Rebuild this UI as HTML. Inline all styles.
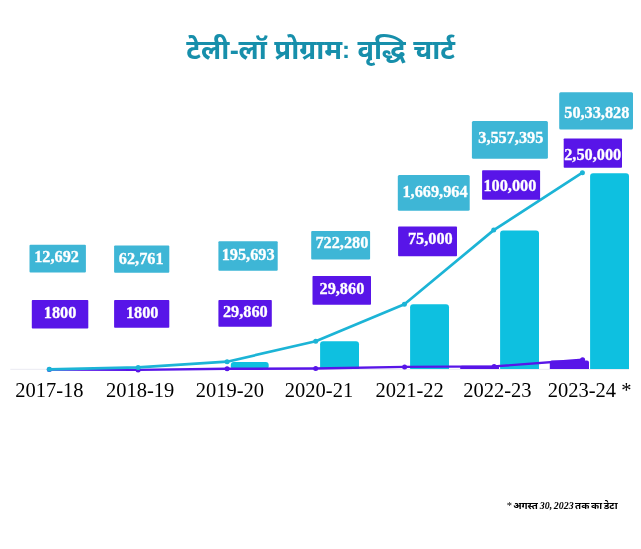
<!DOCTYPE html>
<html lang="hi">
<head>
<meta charset="utf-8">
<title>टेली-लॉ प्रोग्राम: वृद्धि चार्ट</title>
<style>
html,body{margin:0;padding:0;background:#fff;}
body{width:641px;height:549px;overflow:hidden;position:relative;font-family:"Liberation Serif","Noto Serif Devanagari","Lohit Devanagari",serif;}
#title{position:absolute;left:0.2px;top:29.8px;width:641px;margin:0;text-align:center;font-family:"Liberation Sans","Noto Sans Devanagari","Noto Sans","Mukta","Lohit Devanagari",sans-serif;font-weight:700;font-size:27.4px;line-height:40px;color:#178fab;white-space:nowrap;}
.b{position:absolute;transform:translateX(-50%);color:#fff;-webkit-text-stroke:0.3px #fff;font-family:"Liberation Serif",serif;font-weight:700;font-size:16.3px;line-height:20px;white-space:nowrap;}
#title .hy{position:relative;top:1.2px;left:0.4px;}
#title .co{position:relative;top:-0.8px;font-size:24px;margin-right:-0.3px;}
.x{position:absolute;transform:translateX(-50%);font-family:"Liberation Serif",serif;font-size:20.5px;line-height:26px;color:#000;white-space:nowrap;}
#chart{position:absolute;left:0;top:0;}
#note{position:absolute;left:506.8px;top:498px;margin:0;font-family:"Noto Sans Devanagari","Liberation Serif","Lohit Devanagari",serif;font-weight:700;font-size:9.8px;word-spacing:-0.8px;line-height:16px;color:#000;white-space:nowrap;}
#note i{font-family:"Liberation Serif",serif;font-size:9.9px;font-weight:700;margin-right:-0.3px;margin-left:0.3px;}
#note b{font-family:"Liberation Serif",serif;font-size:10.5px;font-weight:400;margin-right:-0.6px;}
</style>
</head>
<body>
<h1 id="title">टेली<span class="hy">-</span>लॉ प्रोग्राम<span class="co">:</span> वृद्धि चार्ट</h1>
<svg id="chart" width="641" height="549" viewBox="0 0 641 549">
  <line x1="10.3" y1="369.3" x2="629" y2="369.3" stroke="#eaeaf2" stroke-width="1"/>
  <g fill="#0ec0e0">
    <path d="M230.8 366.6V364.9a3 3 0 0 1 3-3H265.7a3 3 0 0 1 3 3V366.6a2 2 0 0 1 -2 2H232.8a2 2 0 0 1 -2-2z"/>
    <path d="M320.1 368.8V344.2a3 3 0 0 1 3-3H356a3 3 0 0 1 3 3V368.8a0.3 0.3 0 0 1 -0.3 0.3H320.4a0.3 0.3 0 0 1 -0.3-0.3z"/>
    <path d="M410.1 368.8V307.3a3 3 0 0 1 3-3H446a3 3 0 0 1 3 3V368.8a0.3 0.3 0 0 1 -0.3 0.3H410.4a0.3 0.3 0 0 1 -0.3-0.3z"/>
    <path d="M500.1 368.8V233.6a3 3 0 0 1 3-3H536a3 3 0 0 1 3 3V368.8a0.3 0.3 0 0 1 -0.3 0.3H500.4a0.3 0.3 0 0 1 -0.3-0.3z"/>
    <path d="M590.1 368.8V176.3a3 3 0 0 1 3-3H626a3 3 0 0 1 3 3V368.8a0.3 0.3 0 0 1 -0.3 0.3H590.4a0.3 0.3 0 0 1 -0.3-0.3z"/>
  </g>
  <g fill="#5815e8">
    <path d="M460.2 368.8V367.3a1.5 1.5 0 0 1 1.5-1.5H497.5a1.5 1.5 0 0 1 1.5 1.5V368.8a0.3 0.3 0 0 1 -0.3 0.3H460.5a0.3 0.3 0 0 1 -0.3-0.3z"/>
    <path d="M549.8 368.8V362.4a2 2 0 0 1 2-2H587a2 2 0 0 1 2 2V368.8a0.3 0.3 0 0 1 -0.3 0.3H550.1a0.3 0.3 0 0 1 -0.3-0.3z"/>
  </g>
  <polyline fill="none" stroke="#5815e8" stroke-width="2.4" stroke-linejoin="round" stroke-linecap="round" points="49.3,369.6 138.1,369.9 227.1,368.8 315.7,368.5 404.6,366.9 494.1,366.4 582.6,359.8"/>
  <g fill="#5815e8"><circle cx="49.3" cy="369.6" r="2.5"/><circle cx="138.1" cy="369.9" r="2.5"/><circle cx="227.1" cy="368.8" r="2.5"/><circle cx="315.7" cy="368.5" r="2.5"/><circle cx="404.6" cy="366.9" r="2.5"/><circle cx="494.1" cy="366.4" r="2.5"/><circle cx="582.6" cy="359.8" r="2.5"/></g>
  <polyline fill="none" stroke="#1cb4d6" stroke-width="2.7" stroke-linejoin="round" stroke-linecap="round" points="49.3,369.3 138.1,367.4 227.1,361.7 315.7,341.2 404.4,304.3 493.7,230.1 582.4,172.7"/>
  <g fill="#1cb4d6"><circle cx="49.3" cy="369.3" r="2.5"/><circle cx="138.1" cy="367.4" r="2.5"/><circle cx="227.1" cy="361.7" r="2.5"/><circle cx="315.7" cy="341.2" r="2.5"/><circle cx="404.4" cy="304.3" r="2.5"/><circle cx="493.7" cy="230.1" r="2.5"/><circle cx="582.4" cy="172.7" r="2.5"/></g>
  <rect x="29.5" y="244.7" width="56.4" height="27.7" rx="1.0" fill="#3eb6d6"/>
  <rect x="114.1" y="245.5" width="55.2" height="27.3" rx="1.0" fill="#3eb6d6"/>
  <rect x="218.4" y="241.3" width="59.3" height="29.4" rx="1.0" fill="#3eb6d6"/>
  <rect x="311.2" y="230.9" width="58.9" height="28.7" rx="1.0" fill="#3eb6d6"/>
  <rect x="397.8" y="175.1" width="71.9" height="35.7" rx="1.5" fill="#3eb6d6"/>
  <rect x="471.9" y="121.1" width="76.0" height="37.7" rx="1.5" fill="#3eb6d6"/>
  <rect x="559.2" y="92.2" width="73.8" height="37.3" rx="1.5" fill="#3eb6d6"/>
  <rect x="31.8" y="300.1" width="56.5" height="28.5" rx="0.8" fill="#5815e8"/>
  <rect x="114.1" y="300.1" width="55.2" height="27.6" rx="0.8" fill="#5815e8"/>
  <rect x="218.4" y="300.1" width="53.4" height="26.7" rx="0.8" fill="#5815e8"/>
  <rect x="312.5" y="275.9" width="58.5" height="28.9" rx="0.8" fill="#5815e8"/>
  <rect x="398.1" y="226.6" width="58.9" height="29.6" rx="0.8" fill="#5815e8"/>
  <rect x="482.1" y="170.3" width="58.0" height="29.4" rx="0.8" fill="#5815e8"/>
  <rect x="563.7" y="138.5" width="58.3" height="29.2" rx="0.8" fill="#5815e8"/>
</svg>
<div class="b" style="left:56.6px;top:247.35px;">12,692</div>
<div class="b" style="left:141.2px;top:249.15px;">62,761</div>
<div class="b" style="left:248.1px;top:245.15px;">195,693</div>
<div class="b" style="left:341.9px;top:233.15px;">722,280</div>
<div class="b" style="left:435.0px;top:181.95px;">1,669,964</div>
<div class="b" style="left:510.8px;top:128.25px;">3,557,395</div>
<div class="b" style="left:596.8px;top:103.15px;">50,33,828</div>
<div class="b" style="left:60.1px;top:302.95px;">1800</div>
<div class="b" style="left:142.2px;top:302.55px;">1800</div>
<div class="b" style="left:245.3px;top:301.95px;">29,860</div>
<div class="b" style="left:341.9px;top:279.05px;">29,860</div>
<div class="b" style="left:430.3px;top:228.95px;">75,000</div>
<div class="b" style="left:509.9px;top:176.15px;">100,000</div>
<div class="b" style="left:592.7px;top:145.45px;">2,50,000</div>
<div class="x" style="left:49.4px;top:376.58px;">2017-18</div>
<div class="x" style="left:140.1px;top:376.58px;">2018-19</div>
<div class="x" style="left:229.85px;top:376.58px;">2019-20</div>
<div class="x" style="left:319.0px;top:376.58px;">2020-21</div>
<div class="x" style="left:409.6px;top:376.58px;">2021-22</div>
<div class="x" style="left:497.3px;top:376.58px;">2022-23</div>
<div class="x" style="left:589.55px;top:376.58px;">2023-24 *</div>
<p id="note"><b>*</b> अगस्त <i>30, 2023</i> तक का डेटा</p>
</body>
</html>
